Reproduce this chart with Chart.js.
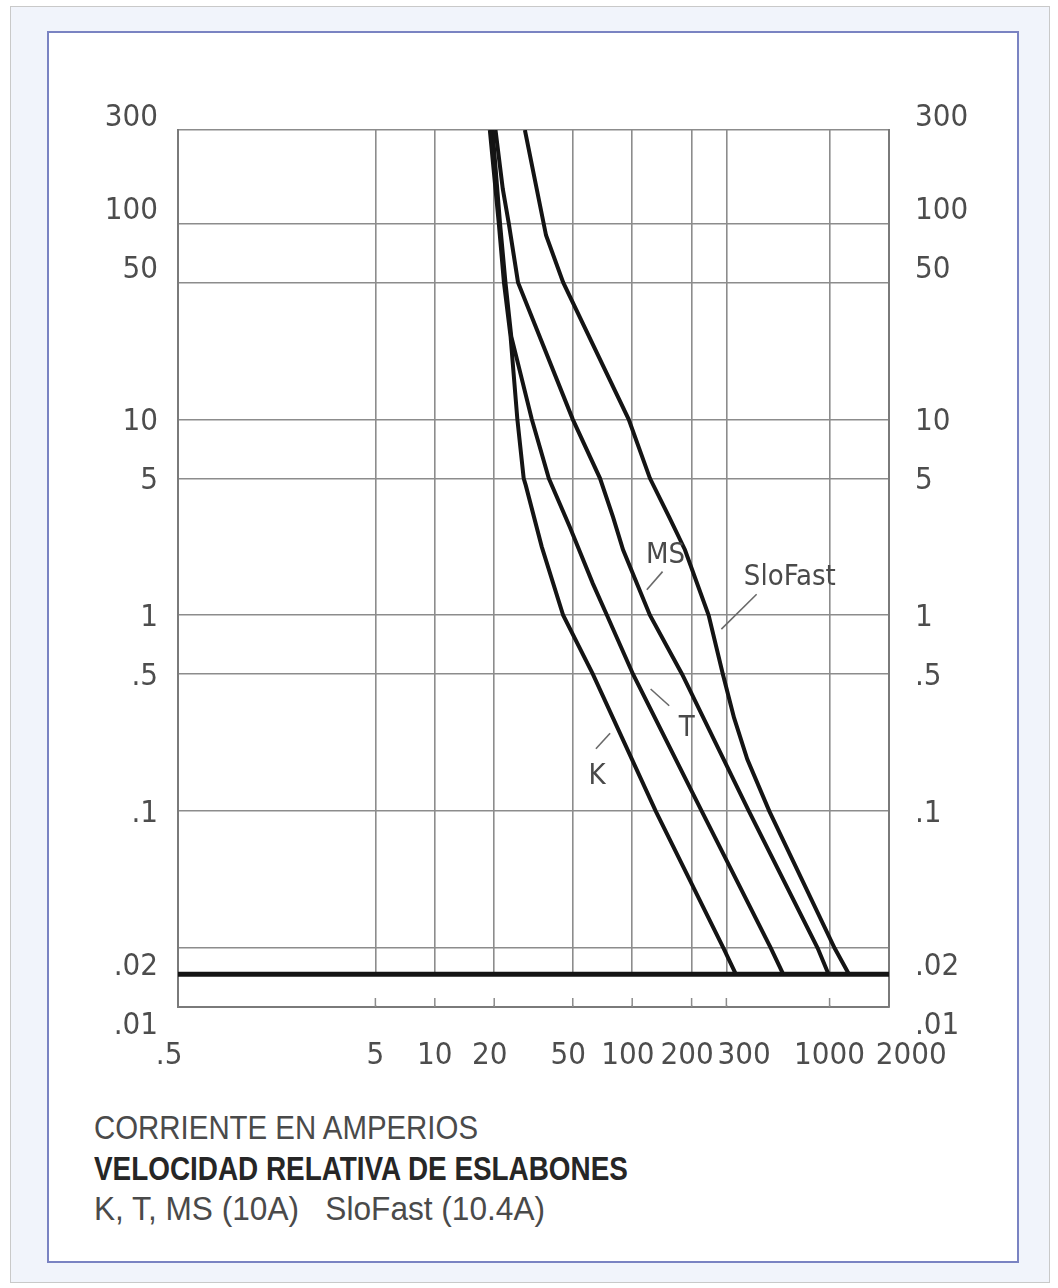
<!DOCTYPE html>
<html>
<head>
<meta charset="utf-8">
<script src="https://cdn.jsdelivr.net/npm/chart.js@4.4.1/dist/chart.umd.min.js"></script>
<style>
  html, body { margin: 0; padding: 0; background: #fff; }
  body { width: 1058px; height: 1288px; position: relative; overflow: hidden;
         font-family: "Liberation Sans", Arial, sans-serif; }
  #outer { position: absolute; left: 10px; top: 6px; width: 1040px; height: 1277px;
           border: 1px solid #c9c9c9; background: #f1f4fb; box-sizing: border-box; }
  #panel { position: absolute; left: 47px; top: 31px; width: 972px; height: 1232px;
           border: 2px solid #7a83c2; background: #fff; box-sizing: border-box; }
  #fuseChart { position: absolute; left: 0; top: 0; }
  .caption { position: absolute; left: 94px; font-size: 34px; line-height: 34px; color: #4a4a4a;
             white-space: nowrap; transform-origin: 0 50%; }
  .bold { font-weight: bold; color: #262626; }
</style>
</head>
<body>
<div id="outer"></div>
<div id="panel"></div>
<canvas id="fuseChart" width="1058" height="1100"></canvas>
<div class="caption" style="top:1110px; transform:scaleX(0.865)">CORRIENTE EN AMPERIOS</div>
<div class="caption bold" style="top:1151px; transform:scaleX(0.82)">VELOCIDAD RELATIVA DE ESLABONES</div>
<div class="caption" style="top:1191px; transform:scaleX(0.93)">K, T, MS (10A)&nbsp;&nbsp; SloFast (10.4A)</div>

<script>
// tick values of both log axes
const xTicks = [0.5, 5, 10, 20, 50, 100, 200, 300, 1000, 2000];
const yTicks = [0.01, 0.02, 0.1, 0.5, 1, 5, 10, 50, 100, 300];

// curves: current (A) and time (s)
const kCurrent = [19.0, 21.1, 22.4, 24.2, 26.2, 28.2, 28.9, 34.8, 44.7, 63.2, 131.6, 290, 335];
const kTime    = [300, 100, 50, 26.5, 10, 5, 4.6, 2.24, 1, 0.5, 0.1, 0.02, 0.0147];

const tCurrent = [19.6, 21.4, 22.8, 24.4, 31, 37.8, 48.3, 63.2, 74.5, 101, 225, 504, 582];
const tTime    = [300, 100, 50, 26.5, 10, 5, 2.82, 1.45, 1, 0.5, 0.1, 0.02, 0.0147];

const msCurrent = [20.3, 22.1, 23.7, 26.4, 50, 68.7, 80, 89.9, 123, 179, 390, 870, 988];
const msTime    = [300, 150, 100, 50, 10, 5, 3.17, 2.16, 1, 0.5, 0.1, 0.02, 0.0147];

const sfCurrent = [28.6, 36.6, 44.7, 96, 123, 154, 185, 244, 288, 328, 383, 495, 1060, 1254];
const sfTime    = [300, 87, 50, 10, 5, 3.17, 2.16, 1, 0.5, 0.30, 0.184, 0.1, 0.02, 0.0147];

// heavy horizontal line near the bottom
const cutoffTime = 0.0147;
const cutoffRange = [0.5, 2000];

// curve names with their text spot and short leader line (data units)
const curveNames = ['K', 'T', 'MS', 'SloFast'];
const nameAt  = [[66.4, 0.15], [189, 0.265], [147.6, 2.03], [629, 1.56]];
const leaderA = [[77.3, 0.25], [124, 0.42], [142.5, 1.67], [427, 1.28]];
const leaderB = [[65.5, 0.208], [154, 0.345], [118.6, 1.35], [283, 0.85]];

// hand nudges of tick labels as in the printed figure
const xLabelNudge = {0.5: -2, 20: -1, 50: -1, 100: -1, 200: -1, 300: 4, 2000: 5};
const yLabelNudge = {300: 'up', 100: 'up', 50: 'up', 0.02: 'down', 0.01: 'down'};

const fontFamily = '"DejaVu Sans Condensed", "Liberation Sans Narrow", "Arial Narrow", sans-serif';
const gridColor = '#8c8c8c';
const lineColor = '#141414';

function fmt(v) {
    return v < 1 ? String(v).replace(/^0/, '') : String(v);
}

function toPoints(xs, ys) {
    return xs.map((x, i) => ({ x: x, y: ys[i] }));
}

function curve(xs, ys) {
    return {
        data: toPoints(xs, ys),
        borderColor: lineColor,
        borderWidth: 4,
        pointRadius: 0,
        tension: 0,
        fill: false
    };
}

const decorPlugin = {
    id: 'decor',
    beforeDatasetsDraw(chart) {
        const { ctx, chartArea, scales: { x, y } } = chart;
        const yc = y.getPixelForValue(cutoffTime);
        ctx.save();
        // grid stops at the heavy line, only short ticks below it
        ctx.fillStyle = '#fff';
        ctx.fillRect(chartArea.left + 1.5, yc, chartArea.right - chartArea.left - 3, chartArea.bottom - yc - 1.5);
        ctx.strokeStyle = gridColor;
        ctx.lineWidth = 1.5;
        xTicks.slice(1, -1).forEach(v => {
            const px = x.getPixelForValue(v);
            ctx.beginPath();
            ctx.moveTo(px, chartArea.bottom);
            ctx.lineTo(px, chartArea.bottom - 9);
            ctx.stroke();
        });
        ctx.restore();
    },
    afterDatasetsDraw(chart) {
        const { ctx, scales: { x, y } } = chart;
        ctx.save();
        ctx.strokeStyle = '#6a6a6a';
        ctx.lineWidth = 1.6;
        curveNames.forEach((name, i) => {
            ctx.beginPath();
            ctx.moveTo(x.getPixelForValue(leaderA[i][0]), y.getPixelForValue(leaderA[i][1]));
            ctx.lineTo(x.getPixelForValue(leaderB[i][0]), y.getPixelForValue(leaderB[i][1]));
            ctx.stroke();
        });
        ctx.fillStyle = '#4a4a4a';
        ctx.font = '29px ' + fontFamily;
        ctx.textAlign = 'center';
        ctx.textBaseline = 'middle';
        curveNames.forEach((name, i) => {
            ctx.fillText(name, x.getPixelForValue(nameAt[i][0]), y.getPixelForValue(nameAt[i][1]));
        });
        ctx.restore();
    }
};

function yLabel(v) {
    const s = fmt(v);
    if (yLabelNudge[v] === 'up') return [s, ''];
    if (yLabelNudge[v] === 'down') return ['', s];
    return s;
}

function xLabel(v) {
    const s = fmt(v);
    const n = xLabelNudge[v] || 0;
    return n > 0 ? ' '.repeat(n) + s : s + ' '.repeat(-n);
}

function yAxis(position, width, pad) {
    return {
        type: 'logarithmic',
        position: position,
        min: 0.01,
        max: 300,
        afterBuildTicks: scale => { scale.ticks = yTicks.map(v => ({ value: v })); },
        afterFit: scale => { scale.width = width; },
        ticks: {
            autoSkip: false,
            padding: pad,
            labelOffset: 3,
            color: '#4d4d4d',
            font: { family: fontFamily, size: 31, lineHeight: 1.0 },
            callback: v => yLabel(v)
        },
        grid: {
            display: position === 'left',
            color: gridColor,
            lineWidth: 1.6,
            drawTicks: false
        },
        border: { display: true, color: '#7a7a7a', width: 2 }
    };
}

new Chart(document.getElementById('fuseChart'), {
    type: 'line',
    data: {
        datasets: [
            curve(kCurrent, kTime),
            curve(tCurrent, tTime),
            curve(msCurrent, msTime),
            curve(sfCurrent, sfTime),
            {
                data: cutoffRange.map(c => ({ x: c, y: cutoffTime })),
                borderColor: lineColor,
                borderWidth: 5,
                pointRadius: 0
            }
        ]
    },
    options: {
        responsive: false,
        animation: false,
        layout: { padding: { top: 130, left: 0, right: 0, bottom: 0 } },
        plugins: {
            legend: { display: false },
            tooltip: { enabled: false }
        },
        scales: {
            x: {
                type: 'logarithmic',
                position: 'bottom',
                min: 0.5,
                max: 2000,
                afterBuildTicks: scale => { scale.ticks = xTicks.map(v => ({ value: v })); },
                afterFit: scale => { scale.height = 93; },
                ticks: {
                    autoSkip: false,
                    maxRotation: 0,
                    padding: 30,
                    color: '#4d4d4d',
                    font: { family: fontFamily, size: 31 },
                    callback: v => xLabel(v)
                },
                grid: { color: gridColor, lineWidth: 1.6, drawTicks: false },
                border: { display: true, color: '#7a7a7a', width: 2 }
            },
            y: yAxis('left', 178, 20),
            y2: yAxis('right', 169, 26)
        }
    },
    plugins: [decorPlugin]
});
</script>
</body>
</html>
